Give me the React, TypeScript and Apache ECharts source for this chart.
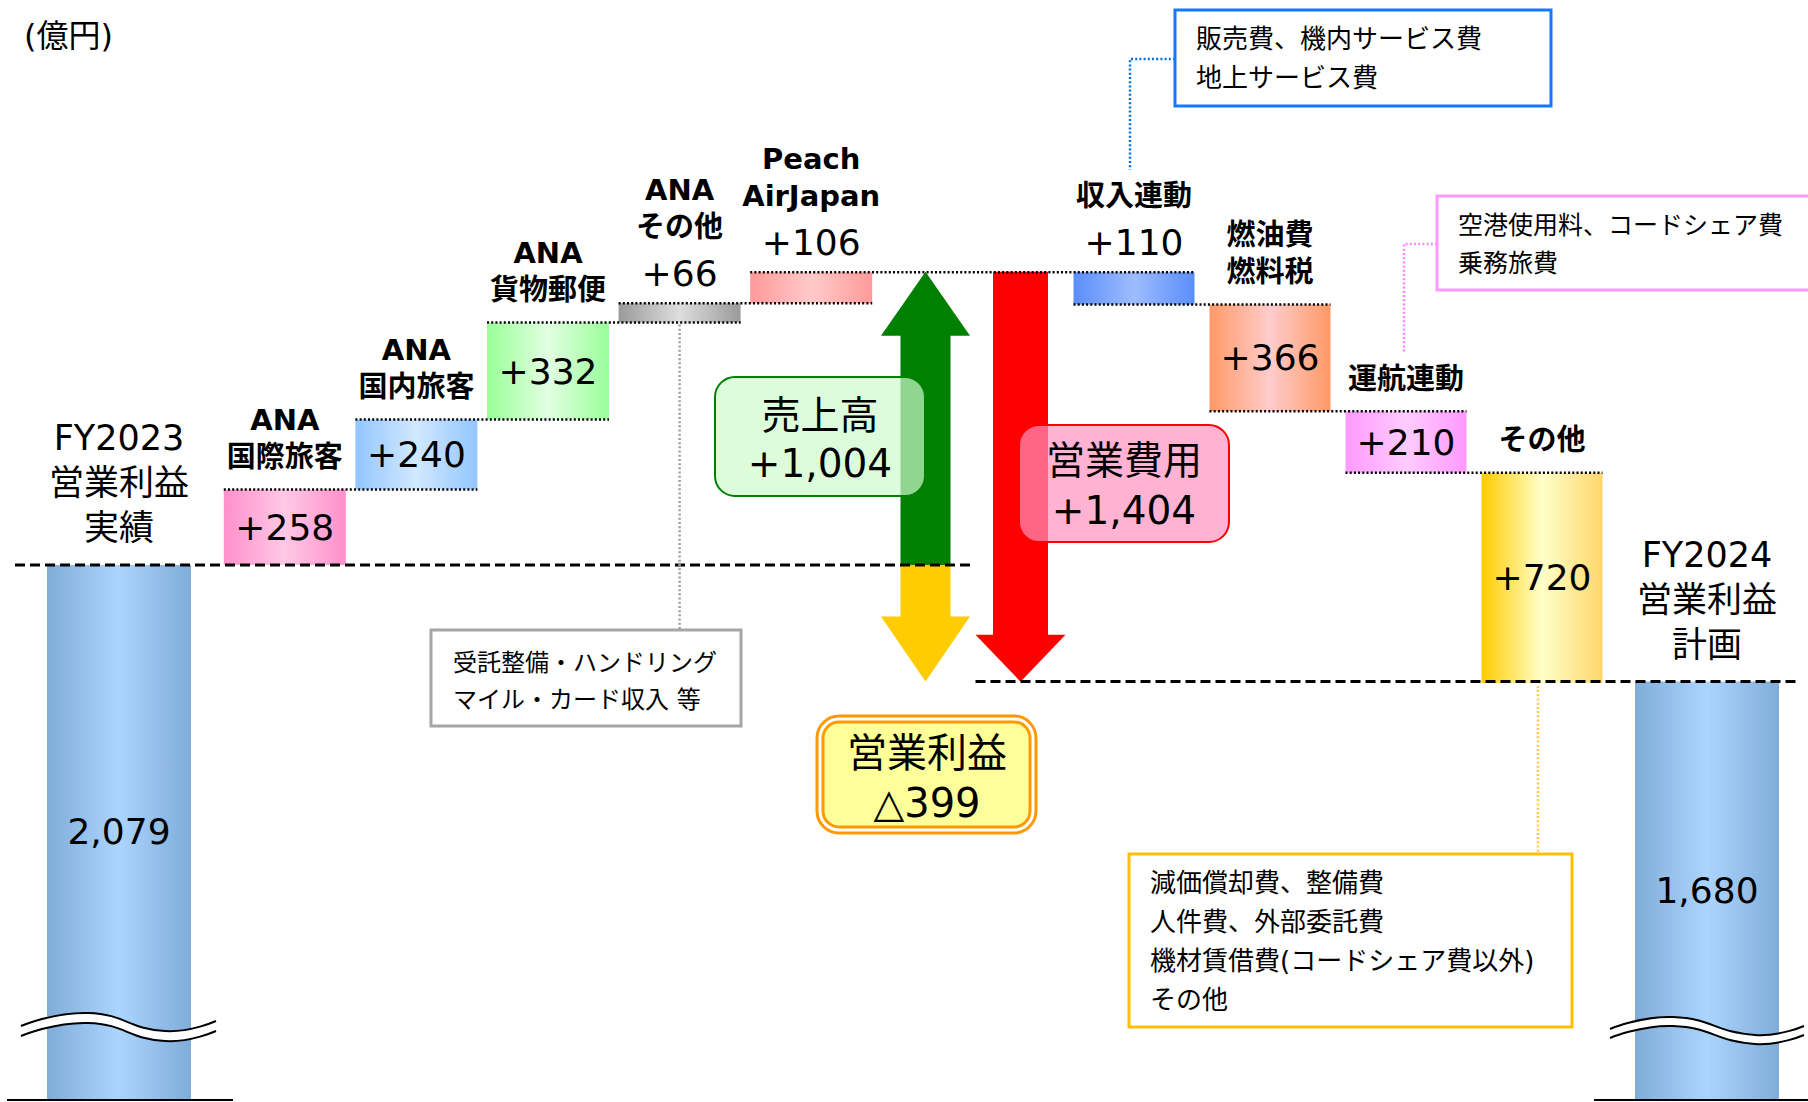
import React, { useEffect, useRef } from 'react';
import * as echarts from 'echarts';

// ---------------- data ----------------
const unitLabel = '(億円)';
const startLabel = 'FY2023\n営業利益\n実績';
const startValue = 2079;
const revenueCategories = ['ANA\n国際旅客', 'ANA\n国内旅客', 'ANA\n貨物郵便', 'ANA\nその他', 'Peach\nAirJapan'];
const revenueValues = [258, 240, 332, 66, 106];
const revenueTotal = 1004;
const costCategories = ['収入連動', '燃油費\n燃料税', '運航連動', 'その他'];
const costValues = [110, 366, 210, 720];
const costTotal = 1404;
const profitChange = -399;
const endLabel = 'FY2024\n営業利益\n計画';
const endValue = 1680;
const arrowCategories = ['売上高', '営業費用'];
const profitTitle = '営業利益';
const revenueNote = ['受託整備・ハンドリング', 'マイル・カード収入 等'];
const revenueLinkedNote = ['販売費、機内サービス費', '地上サービス費'];
const operationLinkedNote = ['空港使用料、コードシェア費', '乗務旅費'];
const otherCostNote = ['減価償却費、整備費', '人件費、外部委託費', '機材賃借費(コードシェア費以外)', 'その他'];

// ---------------- styles ----------------
const FONT = '"DejaVu Sans", "Noto Sans CJK JP", sans-serif';
const fyStops = ['#80acd9', '#abd5fd', '#80acd9'];
const revenueStops = [
  ['#ff8fcb', '#ffc9e5', '#ff8fcb'],
  ['#92c6ff', '#d2e8ff', '#92c6ff'],
  ['#99ff99', '#e2ffe2', '#99ff99'],
  ['#9a9a9a', '#dedede', '#9a9a9a'],
  ['#ff9999', '#ffcaca', '#ff9999'],
];
const costStops = [
  ['#5a8ef9', '#9dbcff', '#5a8ef9'],
  ['#ff9966', '#ffcccc', '#ff9966'],
  ['#ff99ff', '#ffccff', '#ff99ff'],
  ['#ffcc00', '#ffffc8', '#ffd66b'],
];
const arrowColors = ['#008000', '#ffcc00', '#ff0000'];
const arrowShaft = [25, 25, 27.5];
const arrowHead = [44.5, 44.5, 45];
const arrowHeadLen = [64, 65, 47];

const Y_MIN = 250;
const Y_MAX = 4000;
const GRID_TOP = 4;
const GRID_BOTTOM = 3;
const grids = [
  { left: 47, width: 144 },
  { left: 219, width: 658 },
  { left: 878, width: 190 },
  { left: 1066, width: 544 },
  { left: 1635, width: 144 },
];
const REV_W = 122;
const COST_W = 121;

const grad = (s: string[]) =>
  new echarts.graphic.LinearGradient(0, 0, 1, 0, [
    { offset: 0, color: s[0] },
    { offset: 0.5, color: s[1] },
    { offset: 1, color: s[2] },
  ]);
const fmt = (v: number) => v.toLocaleString('en-US');
const signed = (v: number) => (v < 0 ? '△' + fmt(-v) : '+' + fmt(v));

export default function App() {
  const ref = useRef<HTMLDivElement>(null);

  useEffect(() => {
    const el = ref.current as HTMLDivElement;
    const chart = echarts.init(el, null, { renderer: 'svg' });

    const revBases: number[] = [];
    let acc = startValue;
    revenueValues.forEach((v) => {
      revBases.push(acc);
      acc += v;
    });
    const revenueTop = acc;
    const revTops = revenueValues.map((v, i) => revBases[i] + v);
    const costBases: number[] = [];
    let c = revenueTop;
    costValues.forEach((v) => {
      c -= v;
      costBases.push(c);
    });

    const valueLabel = (v: number, inside: boolean) => ({
      show: true,
      position: inside ? 'inside' : 'top',
      distance: 10,
      formatter: () => signed(v),
      color: '#000',
      fontFamily: FONT,
      fontSize: 36,
      lineHeight: 40,
    });

    const gridOpts = grids.map((g) => ({ left: g.left, width: g.width, top: GRID_TOP, bottom: GRID_BOTTOM }));
    const xCats = [[startLabel], revenueCategories, arrowCategories, costCategories, [endLabel]];
    const xAxes = xCats.map((d, i) => ({ type: 'category', gridIndex: i, data: d, show: false }));
    const yAxes = grids.map((_, i) => ({ type: 'value', gridIndex: i, min: Y_MIN, max: Y_MAX, show: false }));

    const fyLabel = {
      show: true,
      position: 'inside',
      formatter: (p: any) => fmt(p.value),
      color: '#000',
      fontFamily: FONT,
      fontSize: 36,
    };

    chart.setOption({
      animation: false,
      backgroundColor: '#fff',
      grid: gridOpts,
      xAxis: xAxes,
      yAxis: yAxes,
      series: [
        {
          type: 'bar', xAxisIndex: 0, yAxisIndex: 0, barWidth: '100%',
          data: [{ value: startValue, itemStyle: { color: grad(fyStops) } }],
          label: fyLabel, silent: true,
        },
        {
          type: 'bar', xAxisIndex: 1, yAxisIndex: 1, stack: 'rev', barWidth: REV_W,
          data: revBases, itemStyle: { color: 'transparent' }, silent: true,
        },
        {
          type: 'bar', xAxisIndex: 1, yAxisIndex: 1, stack: 'rev', barWidth: REV_W, silent: true,
          data: revenueValues.map((v, i) => ({
            value: v,
            itemStyle: { color: grad(revenueStops[i]) },
            label: valueLabel(v, v >= 150),
          })),
        },
        {
          type: 'custom', xAxisIndex: 2, yAxisIndex: 2, silent: true,
          data: [
            [0, startValue, startValue + revenueTotal],
            [0, startValue, startValue + profitChange],
            [1, startValue + revenueTotal, startValue + revenueTotal - costTotal],
          ],
          renderItem: (params: any, api: any) => {
            const i = params.dataIndex;
            const p0 = api.coord([api.value(0), api.value(1)]);
            const p1 = api.coord([api.value(0), api.value(2)]);
            const cx = p0[0];
            const y0 = p0[1];
            const y1 = p1[1];
            const dir = y1 < y0 ? -1 : 1;
            const sw = arrowShaft[i];
            const hw = arrowHead[i];
            const yb = y1 - dir * arrowHeadLen[i];
            return {
              type: 'polygon',
              shape: {
                points: [
                  [cx - sw, y0], [cx - sw, yb], [cx - hw, yb], [cx, y1],
                  [cx + hw, yb], [cx + sw, yb], [cx + sw, y0],
                ],
              },
              style: { fill: arrowColors[i] },
            };
          },
        },
        {
          type: 'bar', xAxisIndex: 3, yAxisIndex: 3, stack: 'cost', barWidth: COST_W,
          data: costBases, itemStyle: { color: 'transparent' }, silent: true,
        },
        {
          type: 'bar', xAxisIndex: 3, yAxisIndex: 3, stack: 'cost', barWidth: COST_W, silent: true,
          data: costValues.map((v, i) => ({
            value: v,
            itemStyle: { color: grad(costStops[i]) },
            label: valueLabel(v, v >= 150),
          })),
        },
        {
          type: 'bar', xAxisIndex: 4, yAxisIndex: 4, barWidth: '100%',
          data: [{ value: endValue, itemStyle: { color: grad(fyStops) } }],
          label: fyLabel, silent: true,
        },
      ],
    });

    const P = (g: number, cat: number, v: number) =>
      chart.convertToPixel({ gridIndex: g } as any, [cat, v]) as number[];

    const G: any[] = [];
    const text = (t: string, x: number, y: number, o: any = {}) => {
      const align = o.align || 'center';
      const va = o.va || 'middle';
      G.push({
        type: 'text', x, y, z: 40,
        style: {
          text: t, fill: '#000', fontFamily: FONT,
          fontSize: o.size || 30, fontWeight: o.weight || 'normal', lineHeight: o.lh || 36,
          align, verticalAlign: va, textAlign: align, textVerticalAlign: va,
        },
      });
    };
    const line = (x1: number, y1: number, x2: number, y2: number, stroke: string, lw: number, dash: number[] | null) => {
      G.push({
        type: 'line', z: 30, shape: { x1, y1, x2, y2 },
        style: { stroke, lineWidth: lw, lineDash: dash || undefined },
      });
    };
    const poly = (pts: number[][], stroke: string, lw: number, dash: number[] | null, smooth = 0) => {
      G.push({
        type: 'polyline', z: 30, shape: { points: pts, smooth },
        style: { stroke, lineWidth: lw, lineDash: dash || undefined },
      });
    };
    const rect = (x: number, y: number, w: number, h: number, r: number, fill: string, stroke: string, lw: number, z = 35) => {
      G.push({ type: 'rect', z, shape: { x, y, width: w, height: h, r }, style: { fill, stroke, lineWidth: lw } });
    };
    const DOT = [2, 2.2];

    // unit
    text(unitLabel, 24, 36, { align: 'left', size: 32 });

    // start / end labels
    const s0 = P(0, 0, startValue);
    const e0 = P(4, 0, endValue);
    text(startLabel, s0[0], s0[1] - 14, { va: 'bottom', size: 35, lh: 45 });
    text(endLabel, e0[0], e0[1] - 14, { va: 'bottom', size: 35, lh: 45 });

    // category names
    revenueCategories.forEach((name, i) => {
      const p = P(1, i, revTops[i]);
      const gap = revenueValues[i] >= 150 ? 14 : 58;
      text(name, p[0], p[1] - gap, { va: 'bottom', size: 29, weight: 'bold', lh: 37 });
    });
    costCategories.forEach((name, j) => {
      const top = j === 0 ? revenueTop : costBases[j - 1];
      const p = P(3, j, top);
      const gap = costValues[j] >= 150 ? 14 : 58;
      text(name, p[0], p[1] - gap, { va: 'bottom', size: 29, weight: 'bold', lh: 37 });
    });

    // dotted connectors
    for (let i = 0; i < revenueValues.length - 1; i++) {
      const a = P(1, i, revTops[i]);
      const b = P(1, i + 1, revTops[i]);
      line(a[0] - REV_W / 2, a[1], b[0] + REV_W / 2, a[1], '#000', 2.5, DOT);
    }
    {
      const a = P(1, revenueValues.length - 1, revenueTop);
      const b = P(3, 0, revenueTop);
      line(a[0] - REV_W / 2, a[1], b[0] + COST_W / 2, a[1], '#000', 2.5, DOT);
    }
    for (let j = 0; j < costValues.length - 1; j++) {
      const a = P(3, j, costBases[j]);
      const b = P(3, j + 1, costBases[j]);
      line(a[0] - COST_W / 2, a[1], b[0] + COST_W / 2, a[1], '#000', 2.5, DOT);
    }

    // dashed level lines
    const arrowUp = P(2, 0, startValue);
    const arrowCost = P(2, 1, endValue);
    line(15, s0[1], arrowUp[0] + 47, s0[1], '#000', 3, [10, 5]);
    line(arrowCost[0] - 45, e0[1], 1799, e0[1], '#000', 3, [10, 5]);

    // baselines & breaks
    line(7, 1100, 233, 1100, '#000', 2, null);
    line(1594, 1100, 1808, 1100, '#000', 2, null);
    const brk = (pts: number[][], off: number) => {
      const mid = pts.map(([x, y]) => [x, y + off / 2]);
      G.push({ type: 'polyline', z: 29, shape: { points: mid, smooth: 0.5 }, style: { stroke: '#fff', lineWidth: off } });
      poly(pts, '#000', 2, null, 0.5);
      poly(pts.map(([x, y]) => [x, y + off]), '#000', 2, null, 0.5);
    };
    brk([[21, 1026], [88, 1013], [165, 1031], [216, 1021]], 10);
    brk([[1610, 1029], [1673, 1017], [1755, 1035], [1804, 1026]], 9);

    // summary boxes
    rect(715, 377, 210, 119, 20, 'rgba(205,251,205,0.7)', '#008000', 2);
    text(arrowCategories[0] + '\n' + signed(revenueTotal), 820, 439, { size: 39, lh: 48 });
    rect(1019, 425, 210, 117, 20, 'rgba(255,146,190,0.7)', '#ff0000', 2);
    text(arrowCategories[1] + '\n' + signed(costTotal), 1124, 485, { size: 39, lh: 50 });
    rect(817, 716, 219, 117, 22, '#ffffff', '#ff9900', 3);
    rect(823, 722, 207, 105, 16, '#ffff99', '#ff9900', 3);
    text(profitTitle + '\n' + signed(profitChange), 927, 778, { size: 40, lh: 50 });

    // callouts
    const other = P(1, 3, revBases[3]);
    line(other[0], other[1] + 2, other[0], 630, '#a0a0a0', 2.5, DOT);
    rect(431, 630, 310, 96, 0, '#ffffff', '#a6a6a6', 3);
    text(revenueNote.join('\n'), 453, 681, { align: 'left', size: 24, lh: 37 });

    const rl = P(3, 0, revenueTop);
    poly([[1175, 59], [rl[0] - 4, 59], [rl[0] - 4, 170]], '#0a70d8', 2.5, DOT);
    rect(1175, 10, 376, 96, 0, '#ffffff', '#1478ff', 3);
    text(revenueLinkedNote.join('\n'), 1196, 58, { align: 'left', size: 26, lh: 39 });

    const ol = P(3, 2, costBases[1]);
    poly([[1437, 244], [ol[0] - 2, 244], [ol[0] - 2, 353]], '#ff88ff', 2.5, DOT);
    rect(1437, 196, 380, 94, 0, '#ffffff', '#ff99ff', 3);
    text(operationLinkedNote.join('\n'), 1458, 244, { align: 'left', size: 25, lh: 38 });

    const oc = P(3, 3, costBases[3]);
    line(oc[0] - 4, oc[1] + 3, oc[0] - 4, 854, '#ffc84a', 2.5, DOT);
    rect(1129, 854, 443, 173, 0, '#ffffff', '#ffc000', 3);
    text(otherCostNote.join('\n'), 1150, 941, { align: 'left', size: 26, lh: 39 });

    chart.setOption({ graphic: { elements: G } });

    return () => chart.dispose();
  }, []);

  return (
    <div
      ref={ref}
      style={{ position: 'fixed', left: 0, top: 0, width: 1808, height: 1102, background: '#fff' }}
    />
  );
}
